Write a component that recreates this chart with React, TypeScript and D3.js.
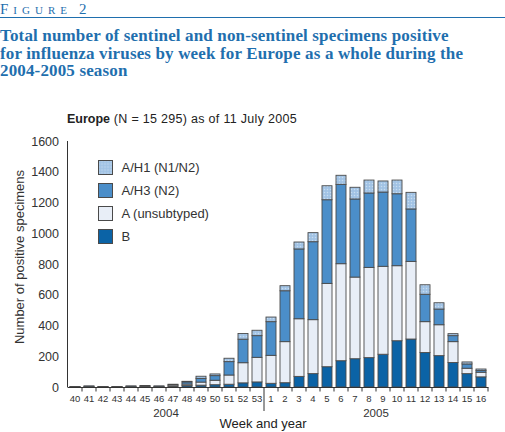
import React from "react";
import * as d3 from "d3";

const weeks = ["40","41","42","43","44","45","46","47","48","49","50","51","52","53","1","2","3","4","5","6","7","8","9","10","11","12","13","14","15","16"];
const seriesB = [1,2,1,1,2,3,2,6,9,12,15,18,27,33,24,28,69,87,132,171,184,191,213,301,312,224,204,159,87,66];
const seriesA = [1,3,1,1,3,4,3,8,10,20,29,60,131,160,182,267,375,351,542,631,531,587,572,488,505,201,201,136,35,30];
const seriesH3 = [1,2,1,1,2,3,2,4,14,24,30,87,153,141,219,331,454,507,544,516,508,484,483,468,341,178,102,39,28,12];
const seriesH1 = [0,0,0,0,0,0,0,0,4,14,11,22,37,35,30,33,45,59,91,59,76,84,72,89,108,62,41,13,13,9];
const yTicks = [0,200,400,600,800,1000,1200,1400,1600];
const legendLabels = ["A/H1 (N1/N2)","A/H3 (N2)","A (unsubtyped)","B"];
const years = [{ label: "2004", from: "40", to: "53" }, { label: "2005", from: "1", to: "16" }];

const keys = ["B","A","H3","H1"];
const colors: Record<string,string> = { B: "#0b63a6", A: "#e8eef7", H3: "#4b8ec9", H1: "url(#stip)" };
const legendFill = ["url(#stip)", "#4b8ec9", "#e8eef7", "#0b63a6"];

export default function App() {
  const W = 505, H = 432;
  const x = d3.scaleBand<string>().domain(weeks).range([68, 488]).paddingInner(4/14).paddingOuter(2/14);
  const y = d3.scaleLinear().domain([0, 1600]).range([387, 141]);
  const rows = weeks.map((w, i) => ({ week: w, B: seriesB[i], A: seriesA[i], H3: seriesH3[i], H1: seriesH1[i] }));
  const stack = d3.stack<any>().keys(keys)(rows);
  const step = x.step();
  const blue = "#1f6fae";
  const sans = "'Liberation Sans', Arial, sans-serif";
  const serif = "'Liberation Serif', 'Times New Roman', serif";
  const sepX = (x("53") as number) + x.bandwidth() + (step - x.bandwidth()) / 2;

  return (
    <svg width={W} height={H} style={{ position: "absolute", left: 0, top: 0, background: "#fff" }}>
      <defs>
        <pattern id="stip" width="3" height="3" patternUnits="userSpaceOnUse">
          <rect width="3" height="3" fill="#a7c7e6" />
          <rect x="0" y="0" width="1" height="1" fill="#c8dcf0" />
          <rect x="1.5" y="1.5" width="1" height="1" fill="#8fb6de" />
        </pattern>
      </defs>
      {/* header */}
      <text x={0} y={14} fill={blue} fontFamily={serif} fontSize={15} letterSpacing={5}>
        F<tspan fontSize={11}>IGURE</tspan><tspan dx={7}>2</tspan>
      </text>
      <line x1={0} x2={505} y1={17.5} y2={17.5} stroke={blue} strokeWidth={1.2} />
      <g fill={blue} fontFamily={serif} fontSize={17} fontWeight="bold" letterSpacing={0.15}>
        <text x={0} y={41}>Total number of sentinel and non-sentinel specimens positive</text>
        <text x={0} y={58.5}>for influenza viruses by week for Europe as a whole during the</text>
        <text x={0} y={76}>2004-2005 season</text>
      </g>
      <text x={67} y={123} fontFamily={sans} fontSize={12.5} fill="#222" letterSpacing={0.3}>
        <tspan fontWeight="bold" letterSpacing={0}>Europe</tspan> (N = 15 295) as of 11 July 2005
      </text>

      {/* y axis */}
      <line x1={67.5} x2={67.5} y1={y(1600)} y2={y(0)} stroke="#333" />
      {yTicks.map(t => (
        <text key={t} x={59} y={y(t) + 4.5} textAnchor="end" fontFamily={sans} fontSize={12.5} fill="#333">{t}</text>
      ))}
      <text transform={`translate(24,${257}) rotate(-90)`} textAnchor="middle" fontFamily={sans} fontSize={13} fill="#333">Number of positive specimens</text>

      {/* bars */}
      {stack.map((layer) => (
        <g key={layer.key}>
          {layer.map((d: any, i: number) => {
            const h = y(d[0]) - y(d[1]);
            if (h <= 0) return null;
            return (
              <rect key={i} x={x(weeks[i])} y={y(d[1])} width={x.bandwidth()} height={h}
                fill={colors[layer.key as string]} stroke="#4a4a4a" strokeWidth={0.9} />
            );
          })}
        </g>
      ))}

      {/* x axis */}
      <line x1={67.5} x2={488.5} y1={387.5} y2={387.5} stroke="#333" />
      {weeks.map((w) => {
        const tx = (x(w) as number) + x.bandwidth() + (step - x.bandwidth()) / 2;
        return <line key={"t" + w} x1={tx} x2={tx} y1={387.5} y2={w === "53" ? 411 : 391.5} stroke="#333" />;
      })}
      {weeks.map(w => (
        <text key={"l" + w} x={(x(w) as number) + x.bandwidth() / 2} y={401.5} textAnchor="middle" fontFamily={sans} fontSize={9.5} fill="#333">{w}</text>
      ))}
      {years.map(yr => {
        const cx = ((x(yr.from) as number) + (x(yr.to) as number) + x.bandwidth()) / 2;
        return <text key={yr.label} x={cx} y={417} textAnchor="middle" fontFamily={sans} fontSize={11.5} fill="#333">{yr.label}</text>;
      })}
      <text x={sepX - 1} y={428} textAnchor="middle" fontFamily={sans} fontSize={13} fill="#222">Week and year</text>

      {/* legend */}
      {legendLabels.map((lab, i) => (
        <g key={lab} transform={`translate(98.5,${160.5 + i * 23})`}>
          <rect width={14} height={14} fill={legendFill[i]} stroke="#4a4a4a" />
          <text x={23} y={11.5} fontFamily={sans} fontSize={13} fill="#333">{lab}</text>
        </g>
      ))}
    </svg>
  );
}
